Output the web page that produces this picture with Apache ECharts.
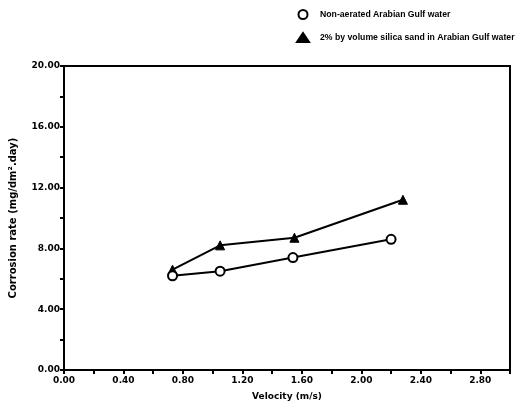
<!DOCTYPE html>
<html>
<head>
<meta charset="utf-8">
<script src="https://cdn.jsdelivr.net/npm/echarts@6/dist/echarts.min.js"></script>
<style>
  html, body { margin: 0; padding: 0; background: #fff; }
  #main { width: 520px; height: 408px; }
</style>
</head>
<body>
<div id="main"></div>
<script>
// velocity (m/s) and corrosion rate (mg/dm².day)
var plainVelocity = [0.73, 1.05, 1.54, 2.20];
var plainRate = [6.2, 6.5, 7.4, 8.6];
var sandVelocity = [0.73, 1.05, 1.55, 2.28];
var sandRate = [6.6, 8.2, 8.7, 11.2];

var plainName = 'Non-aerated Arabian Gulf water';
var sandName = '2% by volume silica sand in Arabian Gulf water';

function pairs(xs, ys) {
	return xs.map(function (x, i) { return [x, ys[i]]; });
}

var myChart = echarts.init(document.getElementById('main'));

var font = 'DejaVu Sans';

var option = {
	animation: false,
	backgroundColor: '#fff',
	legend: {
		orient: 'vertical',
		left: 291,
		top: 4,
		itemGap: 12,
		itemWidth: 12,
		itemHeight: 9,
		textStyle: { fontFamily: 'Liberation Sans', fontSize: 8.7, fontWeight: 'bold', color: '#000', padding: [0, 0, 0, 6] },
		data: [
			{ name: plainName, icon: 'circle' },
			{ name: sandName, icon: 'triangle' }
		]
	},
	grid: {
		left: 64,
		top: 66,
		right: 10,
		bottom: 38,
		show: true,
		borderColor: '#000',
		borderWidth: 2,
		backgroundColor: 'transparent'
	},
	xAxis: {
		type: 'value',
		min: 0,
		max: 3.0,
		interval: 0.2,
		name: 'Velocity (m/s)',
		nameLocation: 'middle',
		nameGap: 22,
		nameTextStyle: { fontFamily: font, fontSize: 9, fontWeight: 'bold', color: '#000' },
		axisLine: { show: true, lineStyle: { color: '#000', width: 2 } },
		axisTick: { show: true, inside: false, length: 4, lineStyle: { color: '#000', width: 2 } },
		splitLine: { show: false },
		axisLabel: {
			fontFamily: font, fontSize: 9, fontWeight: 'bold', color: '#000', margin: 6,
			formatter: function (v) {
				var k = Math.round(v * 10);
				if (k % 4 !== 0 || k >= 30) return '';
				return v.toFixed(2);
			}
		}
	},
	yAxis: {
		type: 'value',
		min: 0,
		max: 20,
		interval: 2,
		name: 'Corrosion rate (mg/dm².day)',
		nameLocation: 'middle',
		nameGap: 46,
		nameTextStyle: { fontFamily: font, fontSize: 10, fontWeight: 'bold', color: '#000' },
		axisLine: { show: true, lineStyle: { color: '#000', width: 2 } },
		axisTick: { show: true, inside: false, length: 4, lineStyle: { color: '#000', width: 2 } },
		splitLine: { show: false },
		axisLabel: {
			fontFamily: font, fontSize: 9, fontWeight: 'bold', color: '#000', margin: 4,
			formatter: function (v) {
				if (Math.round(v) % 4 !== 0) return '';
				return v.toFixed(2);
			}
		}
	},
	series: [
		{
			name: plainName,
			type: 'line',
			data: pairs(plainVelocity, plainRate),
			symbol: 'circle',
			symbolSize: 9,
			z: 3,
			itemStyle: { color: '#fff', borderColor: '#000', borderWidth: 2 },
			lineStyle: { color: '#000', width: 2 }
		},
		{
			name: sandName,
			type: 'line',
			data: pairs(sandVelocity, sandRate),
			symbol: 'triangle',
			symbolSize: 9,
			z: 2,
			itemStyle: { color: '#000', borderColor: '#000', borderWidth: 1 },
			lineStyle: { color: '#000', width: 2 }
		}
	]
};

myChart.setOption(option);
</script>
</body>
</html>
